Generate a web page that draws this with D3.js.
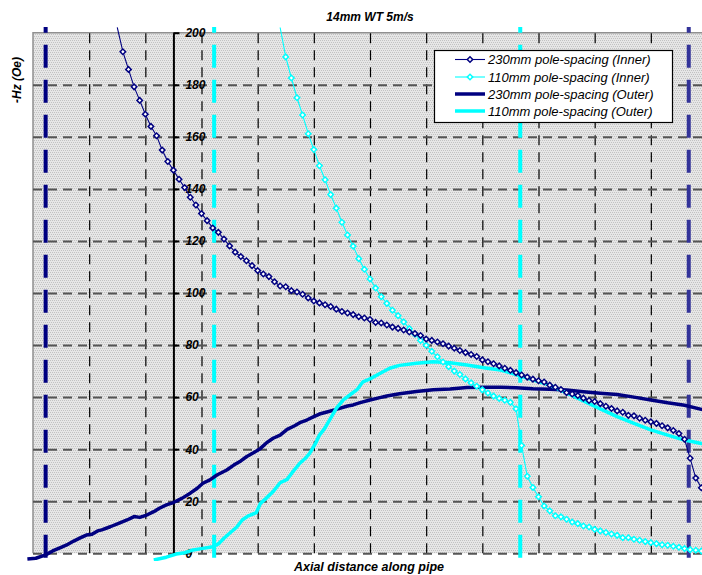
<!DOCTYPE html>
<html><head><meta charset="utf-8">
<script src="https://cdn.jsdelivr.net/npm/d3@7"></script>
<style>body{margin:0;background:#fff;} svg{display:block;font-family:"Liberation Sans",Arial,sans-serif;}</style>
</head><body><svg id="c" width="702" height="575"></svg>
<script>
// ---- data ----
const title = "14mm WT 5m/s";
const xTitle = "Axial distance along pipe";
const yTitle = "-Hz (Oe)";
const seriesNames = ["230mm pole-spacing (Inner)", "110mm pole-spacing (Inner)", "230mm pole-spacing (Outer)", "110mm pole-spacing (Outer)"];
const yTicks = [0, 20, 40, 60, 80, 100, 120, 140, 160, 180, 200];
const gridX = [-100, -80, -60, -40, -20, 0, 20, 40, 60, 80, 100, 120];
const yAxisAt = -70;
const navyMarkers = [-115.5, 113.5];
const cyanMarkers = [-55.5, 53.5];

const navyInnerX = [-90,-88,-86,-84,-82,-80,-78,-76,-74,-72,-70,-68,-66,-64,-62,-60,-58,-56,-54,-52,-50,-48,-46,-44,-42,-40,-38,-36,-34,-32,-30,-28,-26,-24,-22,-20,-18,-16,-14,-12,-10,-8,-6,-4,-2,0,2,4,6,8,10,12,14,16,18,20,22,24,26,28,30,32,34,36,38,40,42,44,46,48,50,52,54,56,58,60,62,64,66,68,70,72,74,76,78,80,82,84,86,88,90,92,94,96,98,100,102,104,106,108,110,112,114,116,118,120];
const navyInnerY = [202,192.7,185.9,179.2,174.0,168.7,164.0,160.4,154.9,150.5,
 147.2,143.7,140.5,136.8,133.8,130.5,127.8,125.0,123.3,120.7,
 118.1,115.7,114.0,112.4,110.5,108.6,107.3,106.3,104.3,102.7,
 102.4,100.9,100.4,99.5,98.1,96.9,96.2,95.5,94.8,93.8,
 92.9,92.3,91.7,90.9,90.4,89.8,88.7,88.5,87.7,86.9,
 86.4,85.8,85.0,84.4,83.7,82.3,81.8,81.2,80.5,79.6,
 78.8,77.9,77.1,76.4,75.6,74.3,73.6,72.8,72.0,71.1,
 70.3,69.4,68.5,67.7,66.9,66.3,65.8,64.6,63.8,62.9,
 61.7,61.2,60.6,59.6,58.7,58.3,57.5,56.5,55.6,54.7,
 54.2,53.0,52.8,51.9,51.1,50.5,49.9,49.0,48.2,47.2,
 46.0,43.8,36.5,28.9,25.2,23.0];

const cyanInnerX = [-32,-30,-28,-26,-24,-22,-20,-18,-16,-14,-12,-10,-8,-6,-4,-2,0,2,4,6,8,10,12,14,16,18,20,22,24,26,28,30,32,34,36,38,40,42,44,46,48,50,52,54,56,58,60,62,64,66,68,70,72,74,76,78,80,82,84,86,88,90,92,94,96,98,100,102,104,106,108,110,112,114,116,118,120];
const cyanInnerY = [202,190.7,182.6,175.0,168.4,161.2,155.1,148.9,143.5,137.8,
 132.6,127.2,122.3,118.0,113.2,109.1,105.4,101.9,98.6,96.0,
 93.4,91.3,88.9,86.3,84.2,81.8,79.9,77.6,75.5,73.5,
 71.7,70.0,68.7,67.0,65.5,64.2,62.8,61.6,60.4,59.5,
 58.8,58.0,55.5,41.4,29.6,25.3,21.7,18.2,16.3,14.4,
 14.0,13.1,12.0,11.4,10.5,10.1,9.2,8.6,8.0,7.4,
 6.9,6.0,6.0,5.4,5.0,4.5,4.1,3.7,3.3,3.1,
 2.7,2.3,1.8,1.4,1.2,0.9,0.7];

const navyOuterX = [-122,-119,-115.5,-113,-110,-108,-105.5,-103,-101,-99,-97,-95.5,-92.5,-89.5,-86.5,-84,-82,-79.5,-77,-75,-72.5,-70,-67,-64,-61.5,-59.5,-57,-54.5,-51,-48.5,-46,-44,-41.5,-39,-37,-34.5,-32,-29.5,-27,-25,-22.5,-20,-18,-15,-12,-8,-6,-3.5,0,3.5,6,10.5,16.5,22.5,28.5,34.5,40.5,46.5,52,58,64,70,76,82,88,94,100,106,112,118,122];
const navyOuterY = [-2.2,-1.9,-0.6,0.9,2.3,3.2,4.7,6.0,7.0,7.3,
 8.6,9.0,10.2,11.5,12.8,14.1,13.8,14.7,16.0,17.3,
 18.6,19.5,21.1,23.1,25.0,26.9,28.2,30.1,32.0,33.9,
 35.5,37.1,38.6,40.3,42.3,44.2,45.4,47.6,48.9,50.2,
 51.2,52.5,53.5,54.4,55.3,56.6,57.0,57.9,58.9,59.8,
 60.4,61.3,62.2,62.8,63.1,63.7,63.8,63.8,63.6,63.2,
 63.0,62.7,62.1,61.5,61.0,60.0,58.9,57.8,56.9,55.3,
 54.8];

const cyanOuterX = [-77,-72.5,-69,-66,-63,-59.5,-56,-54,-52,-50,-47.5,-45.5,-43.5,-40.5,-39,-37,-34.5,-32,-29.5,-27.5,-25,-23,-21.5,-19.5,-18,-16,-14,-12,-9.5,-7,-4.5,-2.5,0,3.5,7,10.5,16.5,22.5,28.5,34.5,40.5,46.5,52,58,64,70,76,82,88,94,100,106,112,118,122];
const cyanOuterY = [-2.6,-1.5,-0.3,0.2,1.3,1.9,2.5,3.6,5.8,7.7,
 10.0,12.8,14.3,15.6,19.2,21.1,23.7,27.1,28.4,31.3,
 34.6,36.5,38.4,42.0,45.4,48.2,51.9,55.7,58.9,61.0,
 63.0,65.9,67.0,69.1,71.1,72.2,73.0,73.6,73.2,72.3,
 71.3,70.4,68.7,66.6,64.6,61.6,58.5,55.5,52.5,49.9,
 47.4,45.4,43.5,42.2,41.5];

const NAVY = "#000080", NAVY2 = "#333399", CYAN = "#00ffff";

// ---- drawing ----
const svg = d3.select("#c");
const x = d3.scaleLinear().domain([-120, 120]).range([33, 707]);
const y = d3.scaleLinear().domain([0, 200]).range([553.3, 32.7]);
const X0 = x(-120), X1 = x(120), Y0 = y(0), Y1 = y(200);

const defs = svg.append("defs");
const pat = defs.append("pattern").attr("id", "bg").attr("width", 4).attr("height", 4).attr("patternUnits", "userSpaceOnUse");
pat.append("rect").attr("width", 4).attr("height", 4).attr("fill", "#e6e6e6");
[[0,0],[2,0],[1,2],[3,2]].forEach(p => pat.append("rect").attr("x", p[0]).attr("y", p[1]).attr("width", 1).attr("height", 1).attr("fill", "#c2c2c2"));
defs.append("clipPath").attr("id", "clip").append("rect").attr("x", 27).attr("y", 27).attr("width", 690).attr("height", 534);

svg.append("rect").attr("x", X0).attr("y", Y1).attr("width", X1 - X0).attr("height", Y0 - Y1).attr("fill", "url(#bg)");
svg.append("path").attr("d", `M${X0},${Y0}V${Y1}H${X1}`).attr("fill", "none").attr("stroke", "#909090").attr("stroke-width", 1.5);

// vertical gridlines
const gx = svg.append("g").attr("transform", `translate(0,${Y0})`)
  .call(d3.axisBottom(x).tickValues(gridX).tickSize(-(Y0 - Y1)).tickFormat(""));
gx.select(".domain").remove();
gx.selectAll("line").attr("stroke", "#000").attr("stroke-width", 1.2).attr("stroke-dasharray", "10,7");

// horizontal gridlines
const gy = svg.append("g").attr("transform", `translate(${X0},0)`)
  .call(d3.axisLeft(y).tickValues(yTicks.slice(0, -1)).tickSize(-(X1 - X0)).tickFormat(""));
gy.select(".domain").remove();
gy.selectAll("line").attr("stroke", "#555").attr("stroke-width", 2).attr("stroke-dasharray", "9,6");

// vertical marker lines (pole positions)
const vm = svg.append("g").attr("clip-path", "url(#clip)");
const addV = (vals, col) => vm.selectAll(null).data(vals).enter().append("line")
  .attr("x1", d => x(d)).attr("x2", d => x(d))
  .attr("y1", Y1 - 23).attr("y2", Y0 + 5)
  .attr("stroke", col).attr("stroke-width", 4).attr("stroke-dasharray", "23,12");
addV([navyMarkers[0]], NAVY);
addV([navyMarkers[1]], NAVY2);
addV(cyanMarkers, CYAN);

// y axis
const ya = svg.append("g").attr("transform", `translate(${x(yAxisAt)},0)`)
  .call(d3.axisRight(y).tickValues(yTicks).tickSize(6).tickSizeOuter(0).tickPadding(6));
ya.select(".domain").attr("stroke", "#000").attr("stroke-width", 2);
ya.selectAll(".tick line").attr("stroke", "#000").attr("stroke-width", 2);
ya.selectAll(".tick text").attr("font-size", 12).attr("font-weight", "bold").attr("font-style", "italic")
  .attr("fill", "#000").attr("font-family", '"Liberation Sans",Arial,sans-serif');

// series
const plot = svg.append("g").attr("clip-path", "url(#clip)");
const line = d3.line().x(d => x(d[0])).y(d => y(d[1]));
const zip = (a, b) => a.map((v, i) => [v, b[i]]);

plot.append("path").datum(zip(navyOuterX, navyOuterY)).attr("d", line)
  .attr("fill", "none").attr("stroke", NAVY).attr("stroke-width", 3.5).attr("stroke-linejoin", "round");
plot.append("path").datum(zip(cyanOuterX, cyanOuterY)).attr("d", line)
  .attr("fill", "none").attr("stroke", CYAN).attr("stroke-width", 3.5).attr("stroke-linejoin", "round");

const diamond = d3.symbol(d3.symbolSquare, 15);
function inner(xs, ys, col) {
  const data = zip(xs, ys);
  plot.append("path").datum(data).attr("d", line).attr("fill", "none").attr("stroke", col).attr("stroke-width", 1.1);
  plot.selectAll(null).data(data.filter(d => d[1] >= 0 && d[1] <= 200)).enter().append("path")
    .attr("d", diamond).attr("transform", d => `translate(${x(d[0])},${y(d[1])}) rotate(45)`)
    .attr("fill", "#fff").attr("stroke", col).attr("stroke-width", 1.5);
}
inner(cyanInnerX, cyanInnerY, CYAN);
inner(navyInnerX, navyInnerY, NAVY);

// legend
const lg = svg.append("g");
lg.append("rect").attr("x", 434.5).attr("y", 50.5).attr("width", 238).attr("height", 72).attr("fill", "#fff").attr("stroke", "#000").attr("stroke-width", 1.2);
const lgCols = [NAVY, CYAN, NAVY, CYAN];
const lgY = [59.5, 77, 94, 111];
seriesNames.forEach((n, i) => {
  const thick = i >= 2;
  lg.append("line").attr("x1", 455).attr("x2", 485).attr("y1", lgY[i]).attr("y2", lgY[i])
    .attr("stroke", lgCols[i]).attr("stroke-width", thick ? 3.5 : 1.1);
  if (!thick) lg.append("path").attr("d", diamond).attr("transform", `translate(470,${lgY[i]}) rotate(45)`)
    .attr("fill", "#fff").attr("stroke", lgCols[i]).attr("stroke-width", 1.5);
  lg.append("text").attr("x", 488).attr("y", lgY[i]).attr("dy", "0.36em").attr("font-size", 13)
    .attr("font-style", "italic").attr("fill", "#000").text(n);
});

// titles
svg.append("text").attr("x", 370).attr("y", 20.5).attr("text-anchor", "middle").attr("font-size", 12)
  .attr("font-weight", "bold").attr("font-style", "italic").text(title);
svg.append("text").attr("x", 369).attr("y", 571).attr("text-anchor", "middle").attr("font-size", 12.5)
  .attr("font-weight", "bold").attr("font-style", "italic").text(xTitle);
svg.append("text").attr("transform", "translate(21,80) rotate(-90)").attr("text-anchor", "middle").attr("font-size", 12)
  .attr("font-weight", "bold").attr("font-style", "italic").text(yTitle);
</script></body></html>
